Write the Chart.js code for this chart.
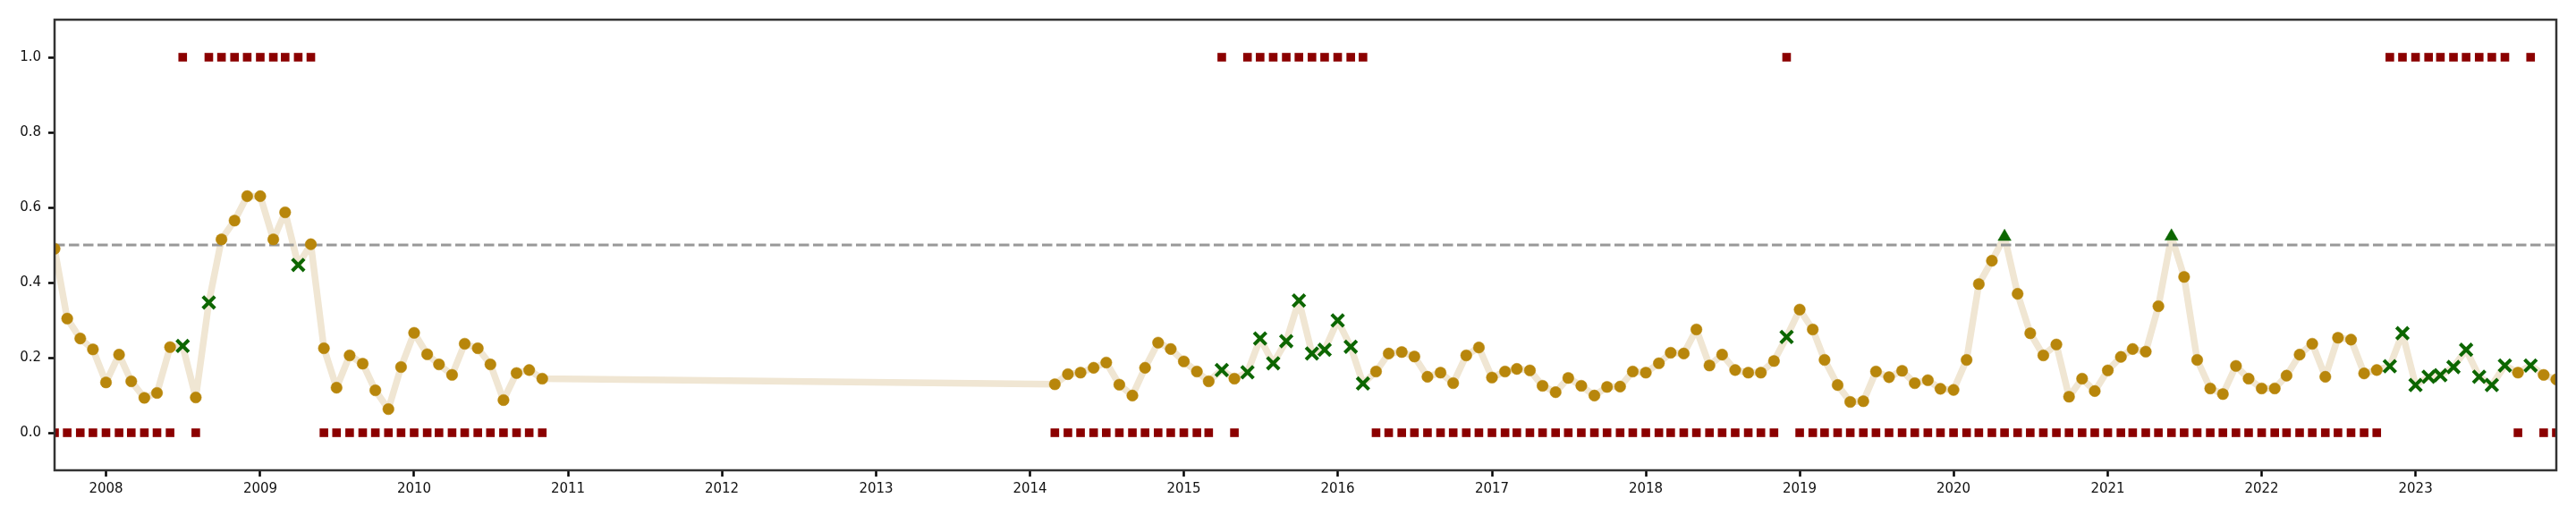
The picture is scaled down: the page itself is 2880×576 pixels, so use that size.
<!DOCTYPE html>
<html>
<head>
<meta charset="utf-8">
<script src="https://cdn.jsdelivr.net/npm/chart.js@4.4.1/dist/chart.umd.min.js"></script>
<style>
  html, body { margin: 0; padding: 0; background: #ffffff; }
  #wrap { width: 2880px; height: 576px; position: relative; }
</style>
</head>
<body>
<div id="wrap"><canvas id="c"></canvas></div>
<script>
// ---------------- DATA ----------------
const dates = [
  '2007-09','2007-10','2007-11','2007-12',
  '2008-01','2008-02','2008-03','2008-04','2008-05','2008-06','2008-07','2008-08','2008-09','2008-10','2008-11','2008-12',
  '2009-01','2009-02','2009-03','2009-04','2009-05','2009-06','2009-07','2009-08','2009-09','2009-10','2009-11','2009-12',
  '2010-01','2010-02','2010-03','2010-04','2010-05','2010-06','2010-07','2010-08','2010-09','2010-10','2010-11',
  '2014-03','2014-04','2014-05','2014-06','2014-07','2014-08','2014-09','2014-10','2014-11','2014-12',
  '2015-01','2015-02','2015-03','2015-04','2015-05','2015-06','2015-07','2015-08','2015-09','2015-10','2015-11','2015-12',
  '2016-01','2016-02','2016-03','2016-04','2016-05','2016-06','2016-07','2016-08','2016-09','2016-10','2016-11','2016-12',
  '2017-01','2017-02','2017-03','2017-04','2017-05','2017-06','2017-07','2017-08','2017-09','2017-10','2017-11','2017-12',
  '2018-01','2018-02','2018-03','2018-04','2018-05','2018-06','2018-07','2018-08','2018-09','2018-10','2018-11','2018-12',
  '2019-01','2019-02','2019-03','2019-04','2019-05','2019-06','2019-07','2019-08','2019-09','2019-10','2019-11','2019-12',
  '2020-01','2020-02','2020-03','2020-04','2020-05','2020-06','2020-07','2020-08','2020-09','2020-10','2020-11','2020-12',
  '2021-01','2021-02','2021-03','2021-04','2021-05','2021-06','2021-07','2021-08','2021-09','2021-10','2021-11','2021-12',
  '2022-01','2022-02','2022-03','2022-04','2022-05','2022-06','2022-07','2022-08','2022-09','2022-10','2022-11','2022-12',
  '2023-01','2023-02','2023-03','2023-04','2023-05','2023-06','2023-07','2023-08','2023-09','2023-10','2023-11','2023-12'
];

const probability = [
  0.490,0.304,0.251,0.222,
  0.134,0.208,0.137,0.093,0.106,0.228,0.231,0.094,0.347,0.515,0.565,0.630,
  0.630,0.515,0.587,0.447,0.502,0.225,0.120,0.206,0.184,0.113,0.063,0.175,
  0.266,0.209,0.182,0.154,0.237,0.225,0.182,0.087,0.159,0.167,0.144,
  0.129,0.156,0.160,0.173,0.187,0.128,0.099,0.173,0.240,0.223,
  0.190,0.163,0.137,0.167,0.144,0.161,0.251,0.185,0.244,0.352,0.211,0.221,
  0.299,0.229,0.131,0.163,0.211,0.215,0.203,0.149,0.160,0.132,0.206,0.227,
  0.147,0.163,0.170,0.166,0.125,0.108,0.146,0.125,0.099,0.122,0.123,0.163,
  0.160,0.185,0.213,0.211,0.275,0.179,0.208,0.167,0.160,0.160,0.191,0.255,
  0.328,0.275,0.194,0.127,0.082,0.084,0.163,0.148,0.165,0.132,0.140,0.117,
  0.114,0.194,0.396,0.458,0.522,0.370,0.265,0.206,0.235,0.096,0.144,0.111,
  0.166,0.202,0.223,0.216,0.337,0.523,0.415,0.194,0.118,0.103,0.178,0.144,
  0.118,0.118,0.152,0.208,0.237,0.149,0.253,0.248,0.158,0.167,0.177,0.265,
  0.127,0.149,0.153,0.175,0.221,0.149,0.127,0.179,0.160,0.179,0.154,0.142
];

// marker kind per month: o = circle, x = cross, ^ = triangle
const markerKinds = (
  'oooo' +
  'ooooooxoxooo' +
  'oooxoooooooo' +
  'ooooooooooo' +
  'oooooooooo' +
  'oooxoxxxxxxx' +
  'xxxooooooooo' +
  'oooooooooooo' +
  'ooooooooooox' +
  'oooooooooooo' +
  'oooo^ooooooo' +
  'ooooo^oooooo' +
  'ooooooooooxx' +
  'xxxxxxxxoxoo'
).split('');

// binary signal shown as squares at 0 / 1
const signal = [
  0,0,0,0,
  0,0,0,0,0,0,1,0,1,1,1,1,
  1,1,1,1,1,0,0,0,0,0,0,0,
  0,0,0,0,0,0,0,0,0,0,0,
  0,0,0,0,0,0,0,0,0,0,
  0,0,0,1,0,1,1,1,1,1,1,1,
  1,1,1,0,0,0,0,0,0,0,0,0,
  0,0,0,0,0,0,0,0,0,0,0,0,
  0,0,0,0,0,0,0,0,0,0,0,1,
  0,0,0,0,0,0,0,0,0,0,0,0,
  0,0,0,0,0,0,0,0,0,0,0,0,
  0,0,0,0,0,0,0,0,0,0,0,0,
  0,0,0,0,0,0,0,0,0,0,1,1,
  1,1,1,1,1,1,1,1,0,1,0,0
];

const yearTicks = [2008,2009,2010,2011,2012,2013,2014,2015,2016,2017,2018,2019,2020,2021,2022,2023];
const yTicks = [0.0, 0.2, 0.4, 0.6, 0.8, 1.0];
const threshold = 0.5;
const yMin = -0.1, yMax = 1.1;

// ---------------- BUILD ----------------
const DAY = 86400000;
const dayOf = s => { const p = s.split('-').map(Number); return Date.UTC(p[0], p[1] - 1, 1) / DAY; };
const xs = dates.map(dayOf);
const xMin = xs[0], xMax = xs[xs.length - 1];

const linePts = xs.map((x, i) => ({ x, y: probability[i] }));
const pick = k => xs.map((x, i) => markerKinds[i] === k ? { x, y: probability[i] } : null).filter(Boolean);
const squarePts = xs.map((x, i) => ({ x, y: signal[i] }));

const GREEN = '#0c6600';

const framePlugin = {
  id: 'frame',
  afterDraw(chart) {
    const a = chart.chartArea, ctx = chart.ctx;
    ctx.save();
    ctx.strokeStyle = '#333333';
    ctx.lineWidth = 2.5;
    ctx.strokeRect(a.left, a.top, a.right - a.left, a.bottom - a.top);
    ctx.restore();
  }
};

new Chart(document.getElementById('c'), {
  type: 'scatter',
  data: {
    datasets: [
      { data: linePts, showLine: true, borderColor: '#F0E6D3', borderWidth: 7.5,
        borderJoinStyle: 'round', borderCapStyle: 'round', pointRadius: 0, tension: 0, clip: 0, order: 6 },
      { data: [{ x: xMin, y: threshold }, { x: xMax, y: threshold }], showLine: true,
        borderColor: '#999999', borderWidth: 3, borderDash: [11.5, 4.5], pointRadius: 0, clip: 0, order: 5 },
      { data: squarePts, pointStyle: 'rect', pointRadius: 6.8, backgroundColor: '#8B0000',
        borderColor: '#8B0000', pointBorderWidth: 0, clip: 0, order: 4 },
      { data: pick('o'), pointStyle: 'circle', pointRadius: 6.3, backgroundColor: '#B8860B',
        borderColor: '#B8860B', pointBorderWidth: 0.5, clip: 0, order: 3 },
      { data: pick('x'), pointStyle: 'crossRot', pointRadius: 9.5, borderColor: GREEN,
        backgroundColor: GREEN, pointBorderWidth: 4, clip: 0, order: 2 },
      { data: pick('^'), pointStyle: 'triangle', pointRadius: 8.5, backgroundColor: GREEN,
        borderColor: GREEN, pointBorderWidth: 0.5, clip: 0, order: 1 }
    ]
  },
  options: {
    responsive: true,
    maintainAspectRatio: false,
    devicePixelRatio: 1,
    animation: false,
    events: [],
    layout: { padding: { top: 22, right: 22, left: 0, bottom: 0 } },
    plugins: { legend: { display: false }, tooltip: { enabled: false }, title: { display: false } },
    scales: {
      x: {
        type: 'linear',
        min: xMin,
        max: xMax,
        afterBuildTicks: s => { s.ticks = yearTicks.map(y => ({ value: Date.UTC(y, 0, 1) / DAY })); },
        afterFit: s => { s.height = 50; },
        grid: { display: true, drawOnChartArea: false, drawTicks: true, tickLength: 7, tickWidth: 2.5, tickColor: '#000000' },
        border: { display: false },
        ticks: {
          autoSkip: false, maxRotation: 0, padding: 5, color: '#111111',
          font: { family: 'DejaVu Sans', size: 15 },
          callback: v => String(new Date(v * DAY).getUTCFullYear())
        }
      },
      y: {
        type: 'linear',
        min: yMin,
        max: yMax,
        afterBuildTicks: s => { s.ticks = yTicks.map(v => ({ value: v })); },
        afterFit: s => { s.width = 61; },
        grid: { display: true, drawOnChartArea: false, drawTicks: true, tickLength: 7, tickWidth: 2.5, tickColor: '#000000' },
        border: { display: false },
        ticks: {
          padding: 8, color: '#111111',
          font: { family: 'DejaVu Sans', size: 15 },
          callback: v => Number(v).toFixed(1)
        }
      }
    }
  },
  plugins: [framePlugin]
});
</script>
</body>
</html>
